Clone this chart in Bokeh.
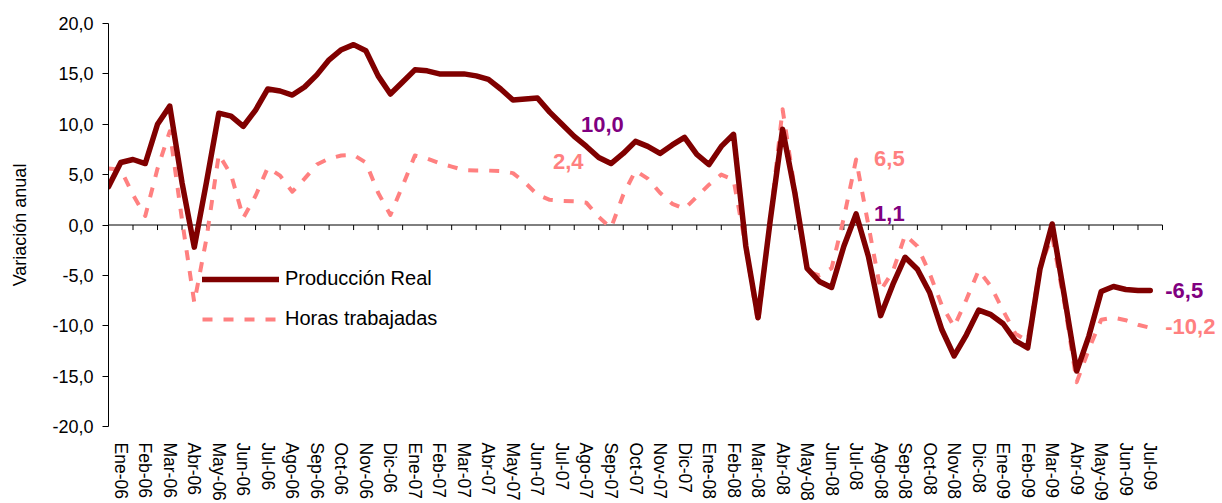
import numpy as np
from bokeh.plotting import figure
from bokeh.models import Range1d, FixedTicker, Label, Legend, LegendItem
from bokeh.embed import file_html
from bokeh.resources import INLINE

# ---------------- data ----------------
months = ["Ene-06", "Feb-06", "Mar-06", "Abr-06", "May-06", "Jun-06", "Jul-06", "Ago-06",
          "Sep-06", "Oct-06", "Nov-06", "Dic-06",
          "Ene-07", "Feb-07", "Mar-07", "Abr-07", "May-07", "Jun-07", "Jul-07", "Ago-07",
          "Sep-07", "Oct-07", "Nov-07", "Dic-07",
          "Ene-08", "Feb-08", "Mar-08", "Abr-08", "May-08", "Jun-08", "Jul-08", "Ago-08",
          "Sep-08", "Oct-08", "Nov-08", "Dic-08",
          "Ene-09", "Feb-09", "Mar-09", "Abr-09", "May-09", "Jun-09", "Jul-09"]

# half-monthly readings (two per month, the second one at mid-month)
produccion_real = [
    3.8, 6.2, 6.5, 6.1, 10.0, 11.8, 4.2, -2.2, 4.3, 11.1,
    10.8, 9.8, 11.4, 13.5, 13.3, 12.9, 13.7, 14.9, 16.4, 17.4,
    17.9, 17.3, 14.8, 13.0, 14.2, 15.4, 15.3, 15.0, 15.0, 15.0,
    14.8, 14.45, 13.5, 12.4, 12.5, 12.6, 11.2, 10.0, 8.8, 7.8,
    6.7, 6.1, 7.1, 8.3, 7.8, 7.1, 7.95, 8.7, 7.0, 6.0,
    7.8, 9.0, -2.1, -9.2, 0.5, 9.5, 3.2, -4.3, -5.6, -6.2,
    -2.1, 1.1, -3.1, -9.0, -5.9, -3.2, -4.4, -6.7, -10.4, -13.0,
    -10.9, -8.45, -8.9, -9.8, -11.5, -12.2, -4.4, 0.1, -7.1, -14.5,
    -11.0, -6.6, -6.1, -6.4, -6.5, -6.5,
]
horas_trabajadas = [
    5.6, 5.5, 3.0, 0.9, 5.6, 9.3, 0.5, -7.7, -1.3, 7.0,
    5.0, 0.7, 2.9, 5.7, 4.9, 3.3, 4.6, 6.0, 6.6, 6.9,
    6.95, 6.2, 3.2, 1.0, 3.9, 6.9, 6.6, 6.15, 5.8, 5.45,
    5.4, 5.4, 5.35, 5.15, 4.2, 3.0, 2.5, 2.4, 2.35, 2.2,
    0.8, -0.3, 3.0, 5.4, 4.6, 3.2, 2.1, 1.6, 2.8, 4.0,
    5.0, 4.5, -2.2, -9.8, 0.5, 11.5, 3.5, -4.6, -5.0, -4.3,
    0.7, 6.5, 0.0, -6.5, -4.6, -1.0, -2.1, -4.8, -8.0, -10.1,
    -7.4, -4.5, -6.1, -8.5, -10.8, -11.5, -4.2, -1.1, -7.8, -15.6,
    -12.3, -9.4, -9.2, -9.45, -9.9, -10.2,
]
y_ticks = [-20, -15, -10, -5, 0, 5, 10, 15, 20]

# ---------------- figure ----------------
FONT = "Liberation Sans"
n_months = len(months)
t = np.arange(len(produccion_real)) * 0.5          # position in months
centers = np.arange(n_months) + 0.5

W, H = 1222, 503
BL, BR, BT, BB = 108, 0, 23, 77
frame_w = W - BL - BR
px_per_month = 1054 / n_months                      # month spacing of the reference
x_end = frame_w / px_per_month                      # extra room on the right for end labels

p = figure(width=W, height=H, output_backend="svg", toolbar_location=None,
           x_range=Range1d(0, x_end), y_range=Range1d(-20, 20),
           min_border_left=BL, min_border_right=BR, min_border_top=BT, min_border_bottom=BB)
p.outline_line_color = None
p.background_fill_color = "white"
p.border_fill_color = "white"
p.xgrid.grid_line_color = None
p.ygrid.grid_line_color = None

# y axis
yax = p.yaxis[0]
yax.ticker = FixedTicker(ticks=y_ticks)
yax.major_label_overrides = {v: f"{v:.1f}".replace(".", ",") for v in y_ticks}
yax.minor_tick_line_color = None
yax.major_tick_in = 0
yax.major_tick_out = 6
yax.axis_line_color = "black"
yax.major_tick_line_color = "black"
yax.major_label_text_font = FONT
yax.major_label_text_font_size = "18px"
yax.major_label_text_color = "black"
yax.major_label_standoff = 9
yax.axis_label = "Variación anual"
yax.axis_label_text_font = FONT
yax.axis_label_text_font_size = "18px"
yax.axis_label_text_font_style = "normal"
yax.axis_label_text_color = "black"
yax.axis_label_standoff = 19

# x axis: only the month labels at the bottom
xax = p.xaxis[0]
xax.ticker = FixedTicker(ticks=list(centers))
xax.major_label_overrides = {float(c): m for c, m in zip(centers, months)}
xax.major_label_orientation = "vertical"
xax.axis_line_color = None
xax.major_tick_line_color = None
xax.minor_tick_line_color = None
xax.major_label_text_font = FONT
xax.major_label_text_font_size = "17.5px"
xax.major_label_text_color = "black"
xax.major_label_standoff = 10

# zero line with its tick marks (spanning the month categories only)
p.segment(x0=[0], x1=[n_months], y0=[0], y1=[0], line_color="black", line_width=1)
bounds = np.arange(n_months + 1)
p.segment(x0=bounds, x1=bounds, y0=np.zeros(len(bounds)), y1=np.full(len(bounds), -0.5),
          line_color="black", line_width=1)

# series
r_horas = p.line(t, horas_trabajadas, line_color="#FF8080", line_width=4,
                 line_dash="10 11", line_join="round")
r_prod = p.line(t, produccion_real, line_color="#800000", line_width=5.5,
                line_join="round", line_cap="round")

# data labels (July values)
def fmt(v):
    return f"{v:.1f}".replace(".", ",")

label_specs = [
    (produccion_real, 37, 19, 0, "#800080"),
    (horas_trabajadas, 37, -9, 39, "#FF8080"),
    (horas_trabajadas, 61, 18, 1, "#FF8080"),
    (produccion_real, 61, 18, 0, "#800080"),
    (produccion_real, 85, 15, 0, "#800080"),
    (horas_trabajadas, 85, 15, 1, "#FF8080"),
]
for series, idx, dx, dy, col in label_specs:
    p.add_layout(Label(x=t[idx], y=series[idx], text=fmt(series[idx]),
                       x_offset=dx, y_offset=dy, text_align="left", text_baseline="middle",
                       text_font=FONT, text_font_size="22px", text_font_style="bold",
                       text_color=col))

legend = Legend(items=[LegendItem(label="Producción Real", renderers=[r_prod]),
                       LegendItem(label="Horas trabajadas", renderers=[r_horas])],
                location=(94, 96), orientation="vertical",
                glyph_width=77, glyph_height=20, label_height=20, label_standoff=6,
                spacing=17, padding=0, margin=0,
                border_line_color=None, background_fill_alpha=0,
                label_text_font=FONT, label_text_font_size="20px", label_text_color="black")
p.add_layout(legend)

open("out.html", "w").write(file_html(p, INLINE))
